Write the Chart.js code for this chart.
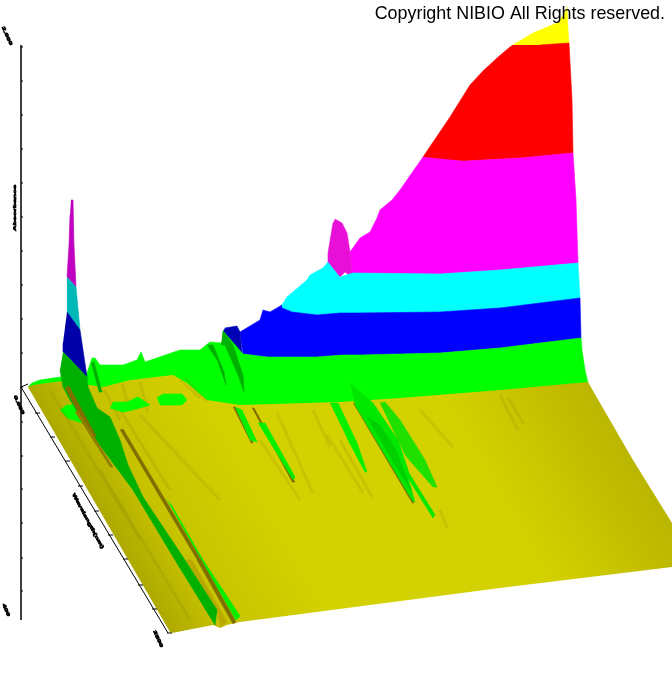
<!DOCTYPE html>
<html>
<head>
<meta charset="utf-8">
<title>NIBIO spectrum</title>
<script src="https://cdn.jsdelivr.net/npm/chart.js@4/dist/chart.umd.js"></script>
<style>
  html, body { margin: 0; padding: 0; background: #fff; }
  canvas { display: block; }
</style>
</head>
<body>
<canvas id="surface" width="672" height="673"></canvas>
<script>
'use strict';

// all values, in projected (screen) units of the 3D view
const COPYRIGHT = 'Copyright NIBIO All Rights reserved.';
const Y_TITLE = 'Absorbance';
const X_TITLE = 'Wavelength(nm)';
const Y_MAX_LABEL = '2.000';
const Y_MIN_LABEL = '0.000';
const X_MIN_LABEL = '400';
const X_MAX_LABEL = '2500';

const yAxisTicks = [47, 81, 115, 149, 183, 217, 251, 285, 319, 353, 387, 422, 456, 489, 523, 558, 591];
const floorTicks = [[40, 413], [55, 437], [70, 461], [83, 486], [99, 511], [113, 535], [128, 559], [143, 585], [157, 609], [172, 633]];

const yellowBand = [[513, 45], [533, 33], [557, 23], [565, 13], [567, 7], [568, 30], [569, 43], [540, 45]];
const redBand = [[513, 45], [510, 47], [497, 58], [483, 71], [470, 85], [450, 117], [423, 157], [440, 160], [465, 161], [520, 158], [573, 153], [572, 100], [569, 43], [540, 45]];
const magentaBand = [[423, 157], [400, 190], [392, 200], [380, 210], [377, 218], [370, 232], [360, 238], [350, 252], [352, 277], [353, 273], [440, 274], [500, 270], [578, 263], [576, 200], [573, 153], [520, 158], [465, 161]];
const magentaPeak = [[335, 219], [342, 223], [347, 233], [350, 252], [352, 277], [345, 272], [340, 277], [328, 263], [328, 253], [333, 223]];
const cyanBand = [[328, 262], [323, 268], [310, 275], [307, 280], [287, 297], [282, 305], [282, 308], [292, 312], [317, 315], [340, 313], [343, 317], [347, 313], [355, 317], [357, 313], [440, 312], [500, 308], [580, 298], [578, 263], [500, 270], [440, 274], [353, 273], [340, 277]];
const blueBand = [[282, 305], [270, 312], [263, 310], [260, 320], [240, 332], [243, 354], [267, 357], [317, 357], [343, 355], [348, 362], [350, 357], [360, 361], [362, 355], [440, 353], [500, 348], [581, 338], [580, 298], [500, 308], [440, 312], [357, 313], [347, 313], [340, 313], [317, 315], [292, 312], [282, 308]];
const blueShadow = [[225, 328], [237, 326], [240, 332], [243, 362], [238, 352], [223, 331]];
const greenBand = [[28, 387], [32, 383], [40, 380], [60, 377], [87, 373], [92, 358], [95, 358], [100, 365], [123, 365], [137, 360], [141, 352], [145, 362], [180, 350], [200, 350], [210, 342], [222, 343], [223, 331], [243, 354], [267, 357], [317, 357], [343, 355], [362, 355], [440, 353], [500, 348], [581, 338], [582, 350], [585, 370], [588, 383], [400, 408], [207, 412]];
const greenShadowA = [[223, 331], [233, 345], [243, 375], [244, 392], [238, 375], [225, 345], [221, 345]];
const greenShadowB = [[207, 345], [213, 345], [224, 372], [226, 385], [218, 362]];

const spikeMagenta = [[71, 200], [73, 200], [74, 245], [76, 287], [67, 277], [69, 245], [70, 215]];
const spikeCyan = [[67, 277], [76, 287], [80, 330], [67, 312]];
const spikeBlue = [[67, 312], [80, 330], [87, 377], [63, 352], [63, 343]];

const floorOutline = [[28, 387], [33, 385], [62, 381], [103, 387], [130, 380], [173, 375], [187, 383], [207, 400], [240, 405], [340, 402], [400, 398], [500, 390], [588, 382], [600, 403], [633, 460], [672, 523], [672, 567], [500, 588], [240, 622], [235, 623], [227, 625], [220, 628], [213, 625], [172, 633], [170, 632]];

const leftBlob = [[60, 410], [67, 405], [76, 405], [90, 420], [82, 423], [67, 418]];
const middleBlob = [[113, 402], [127, 402], [138, 397], [150, 405], [133, 410], [123, 412], [110, 408]];
const rightBlob = [[157, 398], [163, 394], [182, 394], [187, 400], [182, 405], [160, 405]];

const mainStreak = [[63, 352], [87, 377], [88, 387], [97, 408], [110, 417], [120, 440], [128, 465], [143, 497], [185, 560], [217, 610], [215, 625], [175, 560], [133, 490], [90, 432], [70, 400], [63, 387], [60, 370]];
const brownStreakA = [[65, 388], [69, 386], [96, 436], [92, 438]];
const brownStreakB = [[75, 412], [78, 411], [113, 467], [110, 467]];
const brownStreakC = [[120, 430], [123, 429], [200, 558], [236, 622], [233, 624], [197, 560]];
const limeStreak = [[167, 500], [172, 506], [203, 560], [240, 616], [236, 620], [200, 558]];
const ochreStreak = [[186, 560], [192, 560], [227, 622], [221, 627], [217, 610]];
const backRidgeShadow = [[91, 363], [94, 362], [102, 392], [99, 392]];

const centreLimeA = [[235, 407], [242, 410], [257, 442], [250, 440]];
const centreLimeB = [[258, 423], [265, 423], [295, 477], [293, 480]];
const centreLimeC = [[330, 403], [338, 403], [357, 443], [367, 472], [365, 472], [347, 438]];
const centreLimeD = [[350, 383], [373, 403], [398, 440], [409, 473], [435, 515], [433, 518], [408, 478], [415, 502], [412, 500], [355, 405]];
const centreDarkD = [[367, 417], [380, 425], [396, 450], [412, 492], [392, 460]];
const centreLimeE = [[380, 403], [385, 402], [400, 420], [425, 460], [437, 487], [433, 487], [405, 455]];
const centreOliveA = [[233, 407], [235, 407], [253, 443], [251, 443]];
const centreOliveB = [[252, 408], [254, 408], [295, 482], [292, 482]];
const centreOliveC = [[353, 403], [355, 404], [414, 503], [412, 503]];

const faintStreaks = [
  [[277, 413], [313, 493]], [[313, 410], [330, 447]], [[327, 435], [363, 493]], [[340, 440], [372, 497]],
  [[420, 410], [453, 447]], [[440, 510], [447, 528]], [[500, 395], [518, 430]], [[508, 398], [524, 424]],
  [[120, 410], [170, 490]], [[140, 415], [220, 500]], [[180, 380], [200, 398]], [[185, 378], [207, 402]],
  [[122, 384], [130, 410]], [[140, 382], [148, 412]], [[260, 440], [300, 500]], [[104, 390], [120, 420]],
  [[50, 390], [140, 540]], [[100, 470], [190, 620]]
];

const BROWN = '#7f6f00';
const DARK_GREEN = '#00b000';
const LIME = '#00f000';

function floorGradient(context) {
  const g = context.chart.ctx.createLinearGradient(100, 510, 526, 265);
  g.addColorStop(0, '#aea900');
  g.addColorStop(0.1, '#c6c200');
  g.addColorStop(0.3, '#d4d100');
  g.addColorStop(0.72, '#d4d100');
  g.addColorStop(1, '#bab500');
  return g;
}

// painted back to front
const layers = [
  [yellowBand, '#ffff00'], [redBand, '#ff0000'], [magentaBand, '#ff00ff'], [magentaPeak, '#e810d8'],
  [cyanBand, '#00ffff'], [blueBand, '#0000ff'], [blueShadow, '#0000b4'], [greenBand, '#00ff00'],
  [greenShadowA, DARK_GREEN], [greenShadowB, DARK_GREEN],
  [spikeMagenta, '#c000c0'], [spikeCyan, '#00b8b8'], [spikeBlue, '#0000a8'],
  [floorOutline, floorGradient],
  [leftBlob, '#00ff00'], [middleBlob, '#00ff00'], [rightBlob, '#00ff00'],
  [backRidgeShadow, DARK_GREEN],
  [centreOliveA, BROWN], [centreOliveB, BROWN], [centreOliveC, BROWN],
  [centreLimeA, LIME], [centreLimeB, LIME], [centreLimeC, LIME], [centreLimeD, '#00e800'], [centreDarkD, '#00d000'], [centreLimeE, '#20e000'],
  [limeStreak, '#00f000'], [brownStreakC, BROWN], [ochreStreak, '#b8a800'],
  [mainStreak, DARK_GREEN], [brownStreakA, BROWN], [brownStreakB, '#8f8000']
];

function buildDatasets() {
  const sets = [];
  faintStreaks.forEach(s => sets.push({ data: s, borderColor: 'rgba(120,110,0,0.14)', borderWidth: 3, fill: false, paint: 14 }));
  layers.forEach((layer, i) => {
    sets.push({
      data: layer[0],
      backgroundColor: layer[1],
      borderColor: typeof layer[1] === 'string' ? layer[1] : 'rgba(0,0,0,0)',
      borderWidth: typeof layer[1] === 'string' ? 0.6 : 0,
      fill: 'shape',
      paint: i
    });
  });

  // axes
  const tickMarks = [];
  yAxisTicks.forEach(v => tickMarks.push([21, v], [23, v], [null, null]));
  floorTicks.forEach(p => tickMarks.push([p[0] - 5, p[1]], [p[0], p[1]], [null, null]));
  sets.push({ data: [[21, 45], [21, 620]], borderColor: '#000', borderWidth: 1.5, fill: false, paint: 90 });
  sets.push({ data: [[21, 387], [168, 633]], borderColor: '#000', borderWidth: 1, fill: false, paint: 91 });
  sets.push({ data: [[21, 387], [28, 384]], borderColor: '#000', borderWidth: 1, fill: false, paint: 92 });
  sets.push({ data: tickMarks, borderColor: '#000', borderWidth: 1, fill: false, paint: 93 });

  // lower order is drawn last in Chart.js
  sets.forEach(s => {
    s.order = 1000 - s.paint;
    s.pointRadius = 0;
    s.tension = 0;
    s.spanGaps = false;
  });
  return sets;
}

function flatLabel(ctx, text, x, y, angle, squash) {
  ctx.save();
  ctx.translate(x, y);
  ctx.rotate(angle);
  ctx.scale(1, squash);
  ctx.textAlign = 'center';
  ctx.textBaseline = 'middle';
  ctx.fillStyle = '#000';
  ctx.strokeStyle = '#000';
  ctx.lineWidth = 1.2;
  ctx.font = 'bold 8px "Liberation Sans"';
  ctx.strokeText(text, 0, 0);
  ctx.fillText(text, 0, 0);
  ctx.restore();
}

const labelPlugin = {
  id: 'labels',
  afterDraw(chart) {
    const ctx = chart.ctx;
    ctx.save();
    ctx.fillStyle = '#000';
    ctx.font = '17.9px "Liberation Sans"';
    ctx.textAlign = 'right';
    ctx.textBaseline = 'alphabetic';
    ctx.fillText(COPYRIGHT, 665, 19);
    ctx.restore();

    flatLabel(ctx, Y_MAX_LABEL, 7, 36, 1.15, 0.55);
    flatLabel(ctx, Y_TITLE, 15, 208, -1.57, 0.5);
    flatLabel(ctx, Y_MIN_LABEL, 19, 405, 1.15, 0.55);
    flatLabel(ctx, X_TITLE, 88, 521, 1.08, 0.55);
    flatLabel(ctx, X_MIN_LABEL, 6, 610, 1.15, 0.55);
    flatLabel(ctx, X_MAX_LABEL, 158, 639, 1.15, 0.55);
  }
};

new Chart(document.getElementById('surface'), {
  type: 'line',
  data: { datasets: buildDatasets() },
  plugins: [labelPlugin],
  options: {
    responsive: false,
    animation: false,
    layout: { padding: 0 },
    plugins: { legend: { display: false }, title: { display: false }, tooltip: { enabled: false } },
    scales: {
      x: { type: 'linear', min: 0, max: 672, display: false },
      y: { type: 'linear', min: 0, max: 673, reverse: true, display: false }
    }
  }
});
</script>
</body>
</html>
